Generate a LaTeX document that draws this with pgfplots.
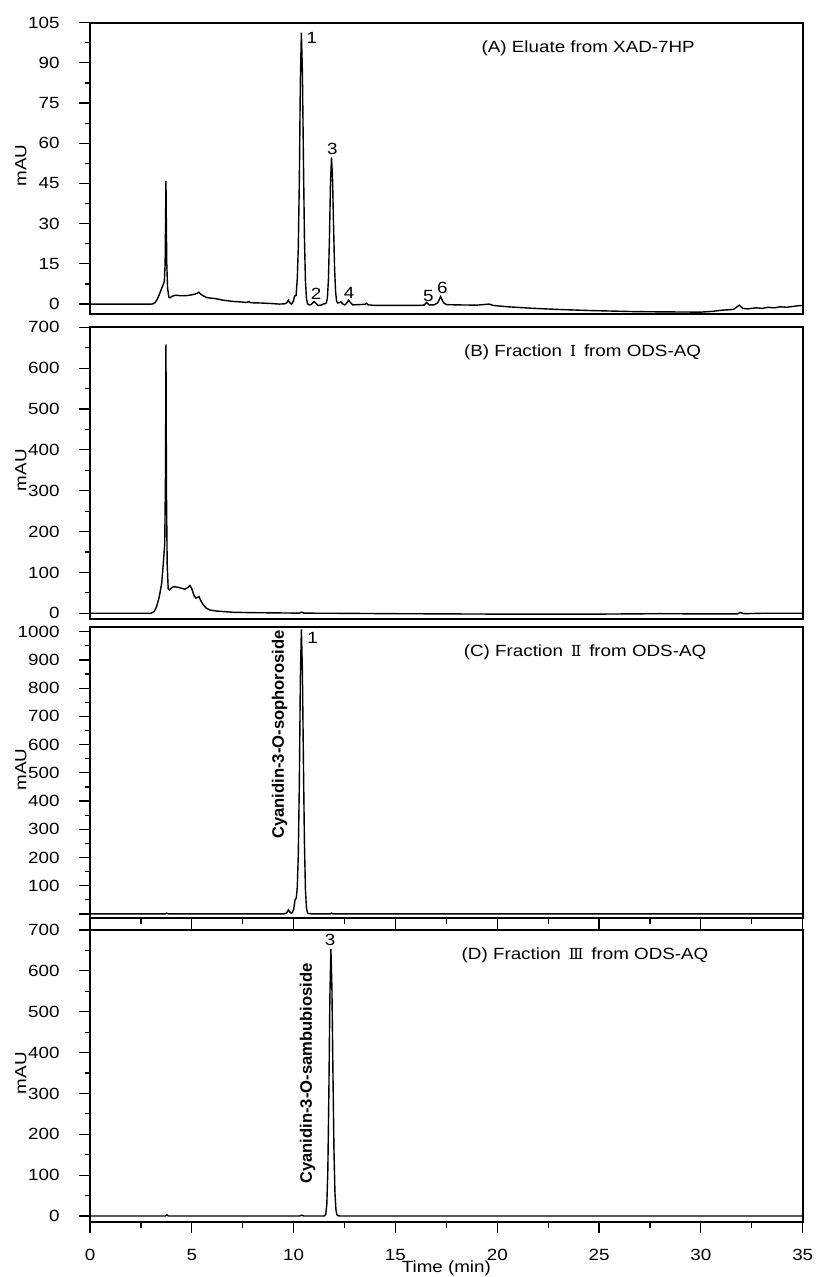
\documentclass[border=0pt]{standalone}
\usepackage{fontspec}
\setmainfont{Liberation Sans}[FakeStretch=1.16]
\newfontfamily\rotfont{Liberation Sans}
\newfontfamily\rom{DejaVu Serif}
\usepackage{pgfplots}
\pgfplotsset{compat=1.18}
\newcommand{\fs}{\fontsize{8.1}{9.7}\selectfont}
\pgfplotsset{
  panel/.style={
    scale only axis, width=356.35pt, xmin=0, xmax=35,
    axis line style={line width=0.9pt},
    every tick/.style={black, line width=0.6pt},
    tick align=outside, ytick pos=left, xtick pos=bottom,
    major tick length=5.3pt, minor tick length=2.7pt,
    minor y tick num=1,
    tick label style={font=\fs},
    yticklabel style={xshift=-6.4pt},
    xticklabel style={yshift=-4.6pt},
    ylabel={mAU},
    ylabel style={font=\fs, at={(axis description cs:-0.097,0.51)}, anchor=center},
    every axis plot post/.append style={black, line width=0.7pt, mark=none, solid},
  },
}
\tikzset{plab/.style={font=\fs, anchor=center}}
\newcommand{\RN}[1]{\,{\rom\fontsize{7.6}{9}\selectfont #1}\,}
\begin{document}
\begin{tikzpicture}
\path (-45pt,0pt) rectangle (363pt,-638.5pt);
% ---------------- A
\begin{axis}[panel, at={(0pt,-11.35pt)}, anchor=north west, height=145.65pt,
  ymin=-3.7, ymax=105, ytick={0,15,...,105}, yticklabels={0,15,30,45,60,75,90,105}, xtick=\empty]
\addplot coordinates {(0,0) (1,0) (2,0) (3,0) (3.1,0.1) (3.2,0.6) (3.3,1.8) (3.4,3.5) (3.5,5.5) (3.58,7) (3.65,8.5) (3.69,15) (3.71,30) (3.73,46) (3.75,30) (3.77,15) (3.81,6) (3.87,2.6) (3.93,2.3) (4.0,2.8) (4.2,3.3) (4.5,3.1) (4.8,3.2) (5.1,3.6) (5.25,4.0) (5.35,4.4) (5.45,3.6) (5.6,2.9) (5.75,2.4) (6.2,2.0) (6.5,1.5) (7.0,1.0) (7.4,0.8) (7.7,0.6) (7.8,0.9) (7.9,0.5) (8.4,0.4) (8.9,0.2) (9.3,0.0) (9.55,0.1) (9.65,0.4) (9.74,1.4) (9.82,0.4) (9.9,0.0) (9.98,1.0) (10.05,3.0) (10.12,3.2) (10.18,9.5) (10.23,21.4) (10.28,46) (10.33,83) (10.38,101.3) (10.43,87) (10.48,55) (10.53,25) (10.58,8.6) (10.63,2.1) (10.68,0.2) (10.75,-0.3) (10.85,-0.2) (10.95,0.5) (11.01,0.9) (11.08,0.4) (11.2,-0.5) (11.35,-0.4) (11.45,0.0) (11.56,0.2) (11.61,0.5) (11.66,2.4) (11.71,9.4) (11.76,25) (11.81,45) (11.86,54.7) (11.91,46.9) (11.96,29.5) (12.01,13.7) (12.06,4.6) (12.11,1.1) (12.16,0.4) (12.25,0.6) (12.32,0.8) (12.42,0.0) (12.52,-0.3) (12.62,0.5) (12.7,1.5) (12.78,0.6) (12.9,-0.3) (13.2,-0.2) (13.5,-0.1) (13.58,0.3) (13.66,-0.3) (14,-0.5) (15,-0.5) (16,-0.5) (16.4,-0.4) (16.53,0.6) (16.65,-0.3) (16.9,-0.3) (17.08,0.5) (17.22,2.8) (17.36,0.5) (17.5,-0.2) (18,-0.3) (19,-0.4) (19.6,0.0) (19.8,-0.5) (20.5,-1.0) (21.8,-1.6) (23,-2.0) (24.5,-2.4) (26.7,-2.8) (28,-2.9) (30,-3.0) (30.6,-2.7) (31,-2.3) (31.6,-2.0) (31.89,-0.4) (32.05,-1.6) (32.3,-1.8) (32.7,-1.4) (33,-1.6) (33.3,-1.2) (33.6,-1.4) (33.9,-1.0) (34.2,-1.2) (34.5,-0.9) (34.8,-0.6) (35,-0.5)};
\node[plab] at (rel axis cs:0.699,0.913) {(A) Eluate from XAD-7HP};
\node[plab] at (axis cs:10.89,99.2) {1};
\node[plab] at (axis cs:11.10,4.0) {2};
\node[plab] at (axis cs:11.90,57.9) {3};
\node[plab] at (axis cs:12.73,4.2) {4};
\node[plab] at (axis cs:16.61,3.0) {5};
\node[plab] at (axis cs:17.30,6.2) {6};
\end{axis}
% ---------------- B
\begin{axis}[panel, at={(0pt,-163.65pt)}, anchor=north west, height=145.85pt,
  ymin=-14, ymax=700, ytick={0,100,...,700}, yticklabels={0,100,200,300,400,500,600,700}, xtick=\empty]
\addplot coordinates {(0,0) (1,0) (2,0) (3.0,0) (3.15,4) (3.27,16) (3.4,40) (3.52,73) (3.6,122) (3.67,170) (3.71,350) (3.73,658) (3.755,300) (3.79,120) (3.84,60) (3.9,57) (4.0,62) (4.1,65) (4.3,64) (4.5,61) (4.66,59) (4.8,63) (4.91,68) (5.0,60) (5.12,42) (5.21,37) (5.35,41) (5.45,30) (5.57,20) (5.7,13) (5.89,8) (6.2,5.5) (6.6,4) (7.04,2.4) (8,1.5) (9,1.0) (10,0.5) (10.3,0.5) (10.39,3) (10.5,0.3) (12,0) (15,-1) (20,-2) (25,-2) (28,-1) (30,-1.5) (31.8,-1.5) (31.92,2) (32.1,-1) (33,0) (35,0)};
\node[plab] at (rel axis cs:0.691,0.913) {(B) Fraction \RN{Ⅰ} from ODS-AQ};
\end{axis}
% ---------------- C
\begin{axis}[panel, at={(0pt,-313.35pt)}, anchor=north west, height=145.8pt,
  ymin=-15.6, ymax=1017.7, ytick={0,100,...,1000},
  yticklabels={,100,200,300,400,500,600,700,800,900,1000},
  xtick={0,5,...,35}, minor x tick num=1, xticklabels={}]
\addplot coordinates {(0,0) (2,0) (3.7,0) (3.77,3) (3.85,0) (6,0) (9.5,0) (9.65,3) (9.74,14) (9.82,6) (9.9,2) (10.0,15) (10.07,50) (10.13,56) (10.18,95) (10.23,213) (10.28,462) (10.33,830) (10.38,1008) (10.43,864) (10.48,544) (10.53,252) (10.58,86) (10.63,21) (10.68,4) (10.75,1) (10.9,0) (11.8,0) (11.86,3) (11.95,0) (20,0) (35,0)};
\node[font=\rotfont\bfseries\fontsize{8.3}{10}\selectfont, rotate=90, anchor=center] at (axis cs:9.31,636) {Cyanidin-3-O-sophoroside};
\node[plab] at (axis cs:10.93,976.6) {1};
\node[plab] at (rel axis cs:0.6946,0.911) {(C) Fraction \RN{Ⅱ} from ODS-AQ};
\end{axis}
% ---------------- D
\begin{axis}[panel, at={(0pt,-465pt)}, anchor=north west, height=146.15pt,
  ymin=-15.4, ymax=700, ytick={0,100,...,700}, yticklabels={0,100,200,300,400,500,600,700},
  xtick={0,5,...,35}, xticklabels={0,5,10,15,20,25,30,35}, minor x tick num=1, clip=false]
\addplot coordinates {(0,0) (2,0) (3.7,0) (3.77,3) (3.85,0) (6,0) (10.3,0) (10.4,2) (10.5,0) (11.46,0) (11.53,0.6) (11.58,5) (11.63,29) (11.68,112) (11.73,299) (11.78,537) (11.83,653) (11.88,560) (11.93,353) (11.98,163) (12.03,56) (12.08,14) (12.13,2.6) (12.2,0.5) (12.3,0) (20,0) (35,0)};
\node[font=\rotfont\bfseries\fontsize{8.3}{10}\selectfont, rotate=90, anchor=center] at (axis cs:10.68,349) {Cyanidin-3-O-sambubioside};
\node[plab] at (axis cs:11.79,675.5) {3};
\node[plab] at (rel axis cs:0.6946,0.9145) {(D) Fraction \RN{Ⅲ} from ODS-AQ};
\node[font=\fs, inner sep=0pt, anchor=base] at ([yshift=-25pt]rel axis cs:0.5,0) {Time (min)};
\end{axis}
\end{tikzpicture}
\end{document}
